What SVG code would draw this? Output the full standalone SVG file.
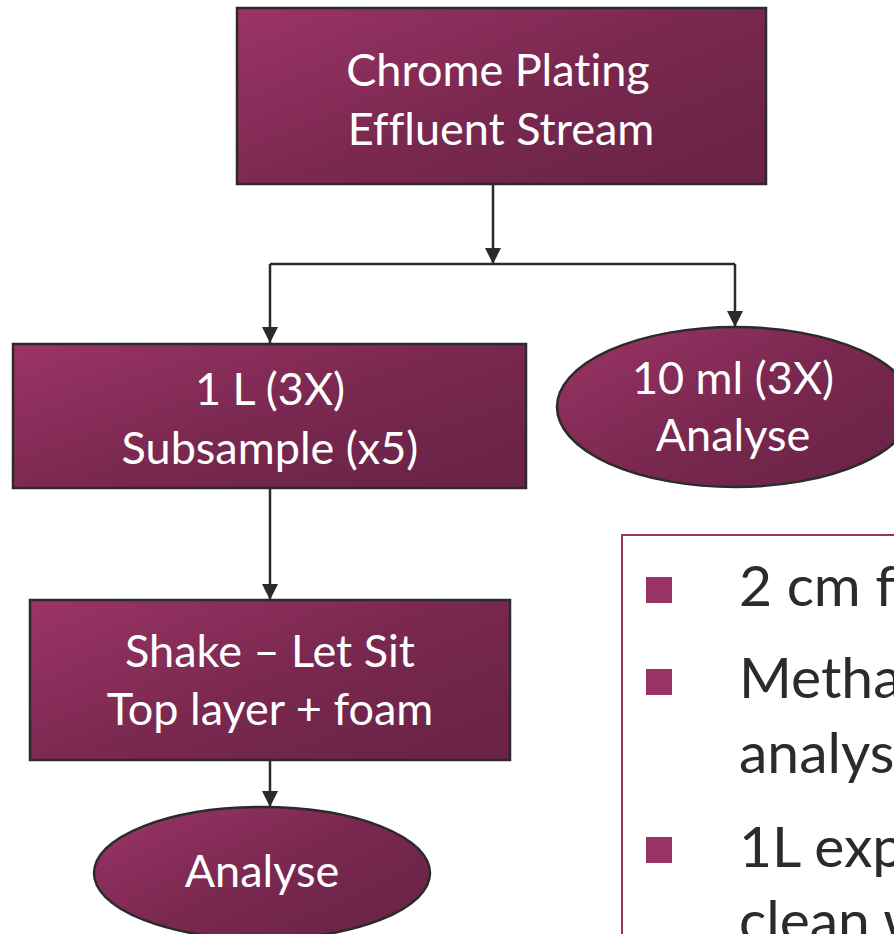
<svg xmlns="http://www.w3.org/2000/svg" width="894" height="934" viewBox="0 0 894 934">
<style>
text{font-variant-ligatures:none;font-feature-settings:"liga" 0,"dlig" 0}
.node{stroke:#2b2b2b;stroke-width:2.5;fill:url(#g)}
.lbl{font-family:Lato,"Liberation Sans",sans-serif;font-size:45px;fill:#ffffff;text-anchor:middle}
.edge{stroke:#2b2b2b;stroke-width:2.5;fill:none}
.bt{font-family:Lato,"Liberation Sans",sans-serif;font-size:57px;fill:#2b2b2b}
.bul{fill:#993366}
</style>
<defs>
<linearGradient id="g" x1="0" y1="0" x2="1" y2="0.8">
<stop offset="0" stop-color="#9b3466"/>
<stop offset="0.55" stop-color="#7a2850"/>
<stop offset="1" stop-color="#6a2346"/>
</linearGradient>
<marker id="a" viewBox="0 0 10 10" refX="10" refY="5" markerWidth="16" markerHeight="16" markerUnits="userSpaceOnUse" orient="auto">
<path d="M0,0 L10,5 L0,10 Z" fill="#2b2b2b"/>
</marker>
</defs>
<g id="connectors">
<line class="edge" x1="493" y1="184" x2="493" y2="264" marker-end="url(#a)"/>
<polyline class="edge" points="270,264 735,264"/>
<polyline class="edge" points="270,264 270,343" marker-end="url(#a)"/>
<polyline class="edge" points="735,264 735,327" marker-end="url(#a)"/>
<line class="edge" x1="270" y1="488" x2="270" y2="600" marker-end="url(#a)"/>
<line class="edge" x1="270" y1="760" x2="270" y2="807" marker-end="url(#a)"/>
</g>
<g id="n1">
<rect class="node" x="237" y="8" width="529" height="176"/>
<text class="lbl" x="498" y="86">Chrome Plating</text>
<text class="lbl" x="501" y="145">Effluent Stream</text>
</g>
<g id="n2">
<rect class="node" x="13" y="344" width="513" height="144"/>
<text class="lbl" x="270" y="405">1 L (3X)</text>
<text class="lbl" x="270" y="464">Subsample (x5)</text>
</g>
<g id="n3">
<ellipse class="node" cx="735" cy="407" rx="178" ry="80"/>
<text class="lbl" x="733" y="394">10 ml (3X)</text>
<text class="lbl" x="733" y="451">Analyse</text>
</g>
<g id="n4">
<rect class="node" x="30" y="600" width="480" height="160"/>
<text class="lbl" x="270" y="667">Shake – Let Sit</text>
<text class="lbl" x="270" y="725">Top layer + foam</text>
</g>
<g id="n5">
<ellipse class="node" cx="262" cy="873" rx="168" ry="66"/>
<text class="lbl" x="262" y="887">Analyse</text>
</g>
<g id="notes">
<rect x="622" y="535" width="300" height="420" fill="#ffffff" stroke="#993366" stroke-width="2"/>
<rect class="bul" x="646" y="577" width="26" height="26"/>
<rect class="bul" x="646" y="669" width="26" height="26"/>
<rect class="bul" x="646" y="837" width="26" height="26"/>
<text class="bt" x="739" y="606">2 cm f</text>
<text class="bt" x="739" y="698">Metha</text>
<text class="bt" x="739" y="773">analys</text>
<text class="bt" x="739" y="867">1L exp</text>
<text class="bt" x="739" y="941">clean w</text>
</g>
</svg>
